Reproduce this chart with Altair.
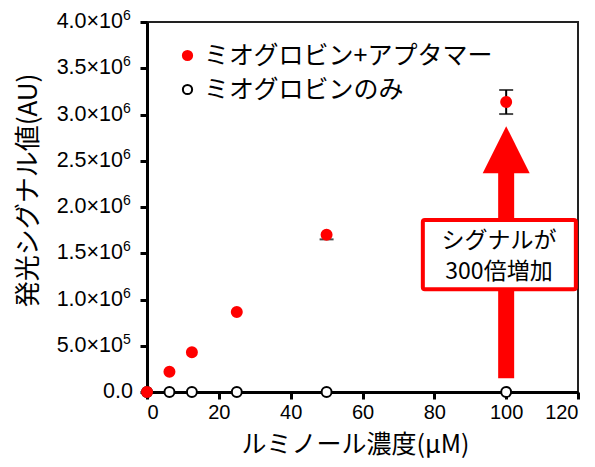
import altair as alt
import pandas as pd

# ---- data ----
conc = [0, 6.25, 12.5, 25, 50, 100]
apt_vals = [0.0, 0.22e6, 0.43e6, 0.865e6, 1.70e6, 3.135e6]
apt_err_lo = [0.0, 0.0, 0.0, 0.0, 0.05e6, 0.13e6]
apt_err_hi = [0.0, 0.0, 0.0, 0.0, 0.0, 0.13e6]
only_vals = [0.0, 0.0, 0.0, 0.0, 0.0, 0.0]
series = ["ミオグロビン+アプタマー", "ミオグロビンのみ"]

# y tick labels (mantissa ×10^exp)
y_ticks = [0, 5e5, 1e6, 1.5e6, 2e6, 2.5e6, 3e6, 3.5e6, 4e6]
y_mant = ["0.0", "5.0", "1.0", "1.5", "2.0", "2.5", "3.0", "3.5", "4.0"]
y_exp = ["", "5", "6", "6", "6", "6", "6", "6", "6"]
x_ticks = [0, 20, 40, 60, 80, 100, 120]

# annotation (data units)
arrow_x = [100]
arrow_shaft = [0.15e6, 2.37e6]
arrow_head_y = [2.62e6]
box_x = [76.8, 119.4]
box_y = [1.11e6, 1.86e6]
box_text_x = [98, 98]
box_text_y = [1.63e6, 1.30e6]
box_text = ["シグナルが", "300倍増加"]

FONT = "Liberation Sans, Arial, sans-serif"
JFONT = "Noto Sans CJK JP, Liberation Sans, sans-serif"

rows = []
for c, v in zip(conc, only_vals):
    rows.append({"conc": c, "val": v, "series": series[1]})
for c, v in zip(conc, apt_vals):
    rows.append({"conc": c, "val": v, "series": series[0]})
df = pd.DataFrame(rows)

err_df = pd.DataFrame({
    "conc": conc,
    "lo": [v - e for v, e in zip(apt_vals, apt_err_lo)],
    "hi": [v + e for v, e in zip(apt_vals, apt_err_hi)],
    "elo": apt_err_lo,
    "ehi": apt_err_hi,
})
err_df = err_df[(err_df["elo"] > 0) | (err_df["ehi"] > 0)]

xscale = alt.Scale(domain=[0, 120], nice=False)
yscale = alt.Scale(domain=[0, 4e6], nice=False)

x_enc = alt.X("conc:Q", scale=xscale, title="ルミノール濃度(μM)",
              axis=alt.Axis(values=x_ticks, titleX=208, titleY=52, titleBaseline="middle",
                            titleAlign="center", titleFontSize=25))
y_enc = alt.Y("val:Q", scale=yscale, title="発光シグナル値(AU)",
              axis=alt.Axis(values=y_ticks, labels=False, titleX=-119, titleY=168,
                            titleAngle=270, titleAlign="center", titleBaseline="middle",
                            titleFontSize=26))

err_rule = alt.Chart(err_df).mark_rule(color="black", strokeWidth=2).encode(
    x=alt.X("conc:Q", scale=xscale), y=alt.Y("lo:Q", scale=yscale), y2="hi:Q")
cap_lo = alt.Chart(err_df[err_df["elo"] > 0]).mark_tick(
    orient="horizontal", size=14, thickness=2, color="black").encode(
    x=alt.X("conc:Q", scale=xscale), y=alt.Y("lo:Q", scale=yscale))
cap_hi = alt.Chart(err_df[err_df["ehi"] > 0]).mark_tick(
    orient="horizontal", size=14, thickness=2, color="black").encode(
    x=alt.X("conc:Q", scale=xscale), y=alt.Y("hi:Q", scale=yscale))

leg = dict(title=None, orient="none", legendX=28, legendY=21, labelFontSize=25,
           labelFont=JFONT, labelColor="black", symbolSize=85, symbolStrokeWidth=2,
           rowPadding=8, labelOffset=4, padding=0, labelLimit=0)
points = alt.Chart(df).mark_point(size=100, strokeWidth=2, opacity=1, clip=False).encode(
    x=x_enc,
    y=y_enc,
    fill=alt.Fill("series:N", scale=alt.Scale(domain=series, range=["#ff0000", "#ffffff"]),
                  legend=alt.Legend(**leg)),
    stroke=alt.Stroke("series:N", scale=alt.Scale(domain=series, range=["#ff0000", "#000000"]),
                      legend=alt.Legend(**leg)),
)

shaft_df = pd.DataFrame({"x": arrow_x, "y1": [arrow_shaft[0]], "y2": [arrow_shaft[1]]})
shaft = alt.Chart(shaft_df).mark_rule(color="#ff0000", strokeWidth=16, strokeCap="butt").encode(
    x=alt.X("x:Q", scale=xscale), y=alt.Y("y1:Q", scale=yscale), y2="y2:Q")
head_df = pd.DataFrame({"x": arrow_x, "y": arrow_head_y})
head = alt.Chart(head_df).mark_point(shape="M0,-1L1,1L-1,1Z", size=2209, filled=True,
                                     color="#ff0000", opacity=1, strokeWidth=0).encode(
    x=alt.X("x:Q", scale=xscale), y=alt.Y("y:Q", scale=yscale))

box_df = pd.DataFrame({"x1": [box_x[0]], "x2": [box_x[1]], "y1": [box_y[0]], "y2": [box_y[1]]})
box = alt.Chart(box_df).mark_rect(fill="white", stroke="#ff0000", strokeWidth=4, cornerRadius=2).encode(
    x=alt.X("x1:Q", scale=xscale), x2="x2:Q", y=alt.Y("y1:Q", scale=yscale), y2="y2:Q")
text_df = pd.DataFrame({"x": box_text_x, "y": box_text_y, "t": box_text})
txt = alt.Chart(text_df).mark_text(fontSize=23, font=JFONT, align="center", baseline="middle",
                                   color="black").encode(
    x=alt.X("x:Q", scale=xscale), y=alt.Y("y:Q", scale=yscale), text="t:N")

# y tick labels with superscript exponents
lab_df = pd.DataFrame({"v": y_ticks, "m": y_mant, "e": y_exp})
lab_df["main"] = [m + ("×10" if e else "") for m, e in zip(y_mant, y_exp)]
lab_exp = lab_df[lab_df["e"] != ""]
lab_zero = lab_df[lab_df["e"] == ""]
ylab_main = alt.Chart(lab_exp).mark_text(align="right", baseline="middle", fontSize=21.5,
                                         font=FONT, color="black").encode(
    x=alt.value(-24), y=alt.Y("v:Q", scale=yscale), text="main:N")
ylab_sup = alt.Chart(lab_exp).mark_text(align="left", baseline="middle", fontSize=14, dy=-6,
                                        font=FONT, color="black").encode(
    x=alt.value(-24), y=alt.Y("v:Q", scale=yscale), text="e:N")
ylab_zero = alt.Chart(lab_zero).mark_text(align="right", baseline="middle", fontSize=21.5,
                                          font=FONT, color="black").encode(
    x=alt.value(-14), y=alt.Y("v:Q", scale=yscale), text="main:N")

chart = alt.layer(shaft, head, box, txt, err_rule, cap_lo, cap_hi, points,
                  ylab_main, ylab_sup, ylab_zero).properties(
    width=431, height=370,
    autosize=alt.AutoSizeParams(type="none"),
    padding={"left": 139, "top": 14, "right": 8, "bottom": 67},
).configure_view(stroke="#222222", strokeWidth=2).configure_axis(
    grid=False, domainColor="black", domainWidth=3, tickColor="black", tickWidth=3, tickSize=7,
    labelFont=FONT, labelFontSize=20, labelColor="black", labelPadding=3,
    titleFont=JFONT, titleColor="black", titleFontWeight="normal",
)

chart.save("out.html", embed_options={"renderer": "svg", "actions": False})
